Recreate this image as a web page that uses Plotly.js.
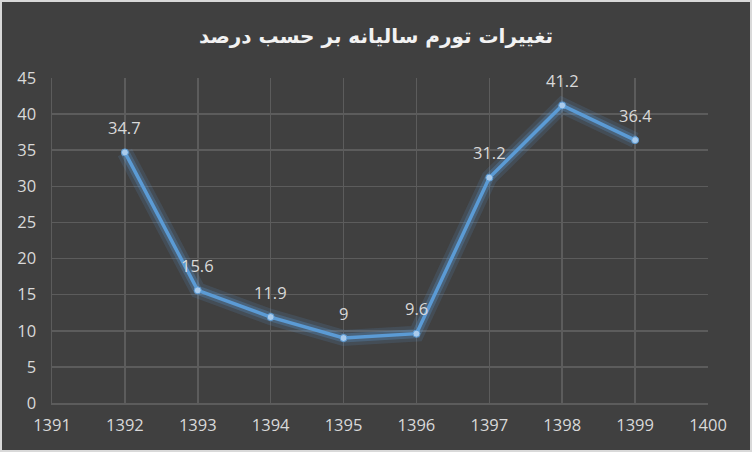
<!DOCTYPE html>
<html><head><meta charset="utf-8">
<script src="https://cdn.plot.ly/plotly-3.0.1.min.js"></script>
<style>
html,body{margin:0;padding:0;background:#d9d9d9;width:752px;height:452px;overflow:hidden;}
#chart{position:absolute;left:2px;top:2px;width:748px;height:448px;}
</style></head><body>
<div id="chart"></div>
<script>
const years = [1392, 1393, 1394, 1395, 1396, 1397, 1398, 1399];
const inflation = [34.7, 15.6, 11.9, 9, 9.6, 31.2, 41.2, 36.4];
const labels = ["34.7", "15.6", "11.9", "9", "9.6", "31.2", "41.2", "36.4"];
const titleText = "تغییرات تورم سالیانه بر حسب درصد";

const glow = {x: years, y: inflation, mode: 'lines', hoverinfo: 'skip',
  line: {color: 'rgba(91,155,213,0.15)', width: 16}, showlegend: false};
const glow2 = {x: years, y: inflation, mode: 'lines', hoverinfo: 'skip',
  line: {color: 'rgba(91,155,213,0.28)', width: 9}, showlegend: false};
const main = {x: years, y: inflation, mode: 'lines+markers', showlegend: false,
  line: {color: '#5b9bd5', width: 3.5},
  marker: {size: 7, color: '#a9cbec', line: {color: '#5b9bd5', width: 1}}};

const annotations = years.map((yr, i) => ({
  x: yr, y: inflation[i], text: labels[i], showarrow: false, yshift: 25,
  font: {family: 'Open Sans, sans-serif', size: 16.5, color: '#d9d9d9'}
}));

const axisFont = {family: 'Open Sans, sans-serif', size: 16.5, color: '#d9d9d9'};
const layout = {
  width: 748, height: 448,
  paper_bgcolor: '#404040', plot_bgcolor: '#404040',
  margin: {l: 50, r: 42, t: 76, b: 47},
  title: {text: '<b>' + titleText + '</b>', x: 0.5, xanchor: 'center', y: 0.925, yanchor: 'middle',
    font: {family: 'DejaVu Sans, sans-serif', size: 20, color: '#f2f2f2'}},
  xaxis: {range: [1391, 1400], dtick: 1, tick0: 1391, showgrid: true, gridcolor: '#5c5c5c', gridwidth: 1.5,
    zeroline: false, showline: true, linecolor: '#5c5c5c', linewidth: 1.5, mirror: false,
    ticks: 'outside', ticklen: 7, tickcolor: 'rgba(0,0,0,0)', tickfont: axisFont, fixedrange: true},
  yaxis: {range: [0, 45], dtick: 5, tick0: 0, showgrid: true, gridcolor: '#5c5c5c', gridwidth: 1.5,
    zeroline: false, showline: true, linecolor: '#5c5c5c', linewidth: 1.5,
    ticks: 'outside', ticklen: 11, tickcolor: 'rgba(0,0,0,0)', tickfont: axisFont, fixedrange: true},
  annotations: annotations
};
Plotly.newPlot('chart', [glow, glow2, main], layout, {displayModeBar: false, staticPlot: true});
</script>
</body></html>
